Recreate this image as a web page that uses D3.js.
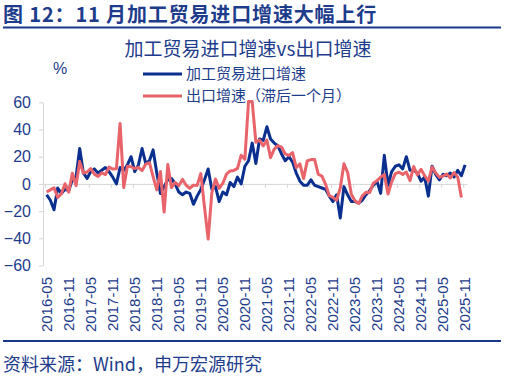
<!DOCTYPE html>
<meta charset="utf-8">
<script src="https://cdn.jsdelivr.net/npm/d3@7/dist/d3.min.js"></script>
<style>
    body { margin: 0; background: #fff; }
    text { font-family: "Liberation Sans", "Noto Sans CJK SC", sans-serif; }
    .cjk { font-family: "Noto Sans CJK SC", sans-serif; }
</style>
<body>
<svg width="506" height="379"></svg>
</body>
<script>

    //横轴标签（每6个月一个，起点2016-05）
    var tickLabels = ["2016-05", "2016-11", "2017-05", "2017-11", "2018-05", "2018-11",
        "2019-05", "2019-11", "2020-05", "2020-11", "2021-05", "2021-11",
        "2022-05", "2022-11", "2023-05", "2023-11", "2024-05", "2024-11",
        "2025-05", "2025-11"];
    var yTicks = [-60, -40, -20, 0, 20, 40, 60];

    //加工贸易进口增速 %
    var procImport = [-8, -12, -19, -3, -7, -4, -5, 3, 5, 26,
        8, 4, 9, 11, 8, 10, 12, 9, 5, 0,
        12, 10, 14, 20, 9, 14, 26, 15, 17, 25,
        8, -7, -2, 3, 4, 0, -6, -8, -6, -7,
        -15, -9, -4, 3, 11, -4, -2, -13, -6, -8,
        1, -2, 5, 0, 13, 17, 30, 15, 33, 32,
        42, 33, 30, 28, 22, 17, 20, 16, 8, 2,
        -1, -1, 3, -1, -2, -3, -4, -9, -13, -8,
        -25, -2, -8, -13, -13, -14, -12, -8, -5, -1,
        2, -7, 21, -1, 9, 13, 14, 11, 20, 10,
        10, 8, 2, 5, -9, 13, 7, 3, 7, 6,
        8, 5, 10, 6, 14];

    //出口增速（滞后一个月）%
    var exportLag = [-6, -4.4, -2.8, -10, -7.3, 0.1, -6.1, 7.9, -1.3, 16.4,
        8, 8.7, 11.3, 7.2, 5.5, 8.1, 6.9, 12.3, 10.9, 11.1,
        44.5, -2.7, 12.9, 12.6, 11.3, 12.2, 9.8, 14.5, 15.6, 5.4,
        -4.4, 9.1, -20.7, 14.2, -2.7, 1.1, -1.3, 3.3, -1, -3.2,
        -0.9, -1.1, 7.6, -17, -40.6, -6.6, 3.5, -3.3, 0.5, 7.2,
        9.5, 9.9, 11.4, 21.1, 18.1, 60.6, 60.6, 30.6, 32.3, 27.9,
        32.2, 19.3, 25.6, 28.1, 27.1, 22, 20.9, 23, 12, 14.7,
        3.9, 16.9, 17.9, 18, 7.1, 5.7, -0.3, -8.7, -9.9, -12,
        -3, 14.8, 8.5, -7.5, -12.4, -14.5, -8.8, -6.2, -6.4, 0.5,
        2.3, 5, 7, -7.5, 1.5, 7.6, 8.6, 7, 8.7, 2.4,
        12.7, 6.7, 10.7, 6, 2, 12.4, 8.1, 4.8, 5.8, 7.2,
        4.4, 8.3, 5, -10];

    var txtClr = "#1d3c8c",
        blueClr = "#0a2f8f",
        redClr = "#e8636a",
        axisClr = "#d6d6d6";

    var svg = d3.select("svg");

    var x = d3.scaleLinear().domain([-1, 114.5]).range([43, 466.9]);
    var y = d3.scaleLinear().domain([-60, 60]).range([265.5, 102.3]);

    //标题
    svg.append("text").attr("class", "cjk")
        .attr("x", 3).attr("y", 21.5)
        .style("font-size", "20px").style("font-weight", "bold")
        .style("letter-spacing", "0.85px")
        .attr("fill", txtClr)
        .text("图 12：11 月加工贸易进口增速大幅上行");
    svg.append("line").attr("x1", 3).attr("x2", 501).attr("y1", 27.5).attr("y2", 27.5)
        .attr("stroke", "#17398c").attr("stroke-width", 2);

    svg.append("text").attr("class", "cjk")
        .attr("x", 248).attr("y", 56).attr("text-anchor", "middle")
        .style("font-size", "19px").attr("fill", txtClr)
        .text("加工贸易进口增速vs出口增速");

    svg.append("text").attr("x", 53).attr("y", 74)
        .style("font-size", "16px").attr("fill", txtClr).text("%");

    //y轴
    var yAxis = svg.append("g").attr("transform", "translate(43,0)")
        .call(d3.axisLeft(y).tickValues(yTicks).tickSize(4).tickSizeOuter(0).tickPadding(8));
    yAxis.selectAll("path,line").attr("stroke", axisClr);
    yAxis.selectAll("text").style("font-size", "16px").attr("fill", txtClr)
        .style("font-family", "Liberation Sans, sans-serif");

    //x轴（零线）
    var tickIdx = tickLabels.map(function (d, i) { return i * 6; });
    var xAxis = svg.append("g").attr("transform", "translate(0," + y(0) + ")")
        .call(d3.axisBottom(x).tickValues(tickIdx.map(function (d) { return d - 0.5; }))
            .tickSize(4).tickSizeOuter(0).tickFormat(""));
    xAxis.selectAll("path,line").attr("stroke", axisClr);

    svg.append("g").selectAll("text").data(tickLabels).enter()
        .append("text")
        .attr("transform", function (d, i) {
            return "translate(" + x(tickIdx[i]) + ",277) rotate(-90)";
        })
        .attr("text-anchor", "end").attr("dy", "0.35em")
        .style("font-size", "15px").attr("fill", txtClr)
        .text(function (d) { return d; });

    //折线
    var line = d3.line()
        .x(function (d, i) { return x(i); })
        .y(function (d) { return y(d); });

    svg.append("path").datum(procImport).attr("d", line)
        .attr("fill", "none").attr("stroke", blueClr).attr("stroke-width", 3)
        .attr("stroke-linejoin", "round");
    svg.append("path").datum(exportLag).attr("d", line)
        .attr("fill", "none").attr("stroke", redClr).attr("stroke-width", 3)
        .attr("stroke-linejoin", "round");

    //图例
    var legend = [
        {name: "加工贸易进口增速", clr: blueClr, y: 74},
        {name: "出口增速（滞后一个月）", clr: redClr, y: 96}
    ];
    var lg = svg.append("g").selectAll("g").data(legend).enter().append("g");
    lg.append("line").attr("x1", 143).attr("x2", 182)
        .attr("y1", function (d) { return d.y; }).attr("y2", function (d) { return d.y; })
        .attr("stroke", function (d) { return d.clr; }).attr("stroke-width", 3);
    lg.append("text").attr("class", "cjk")
        .attr("x", 186).attr("y", function (d) { return d.y; }).attr("dy", "0.35em")
        .style("font-size", "15px").attr("fill", txtClr)
        .text(function (d) { return d.name; });

    //底部
    svg.append("line").attr("x1", 3).attr("x2", 501).attr("y1", 341).attr("y2", 341)
        .attr("stroke", "#17398c").attr("stroke-width", 2);
    svg.append("text").attr("class", "cjk")
        .attr("x", 3).attr("y", 371)
        .style("font-size", "18px").attr("fill", txtClr)
        .text("资料来源：Wind，申万宏源研究");

</script>
